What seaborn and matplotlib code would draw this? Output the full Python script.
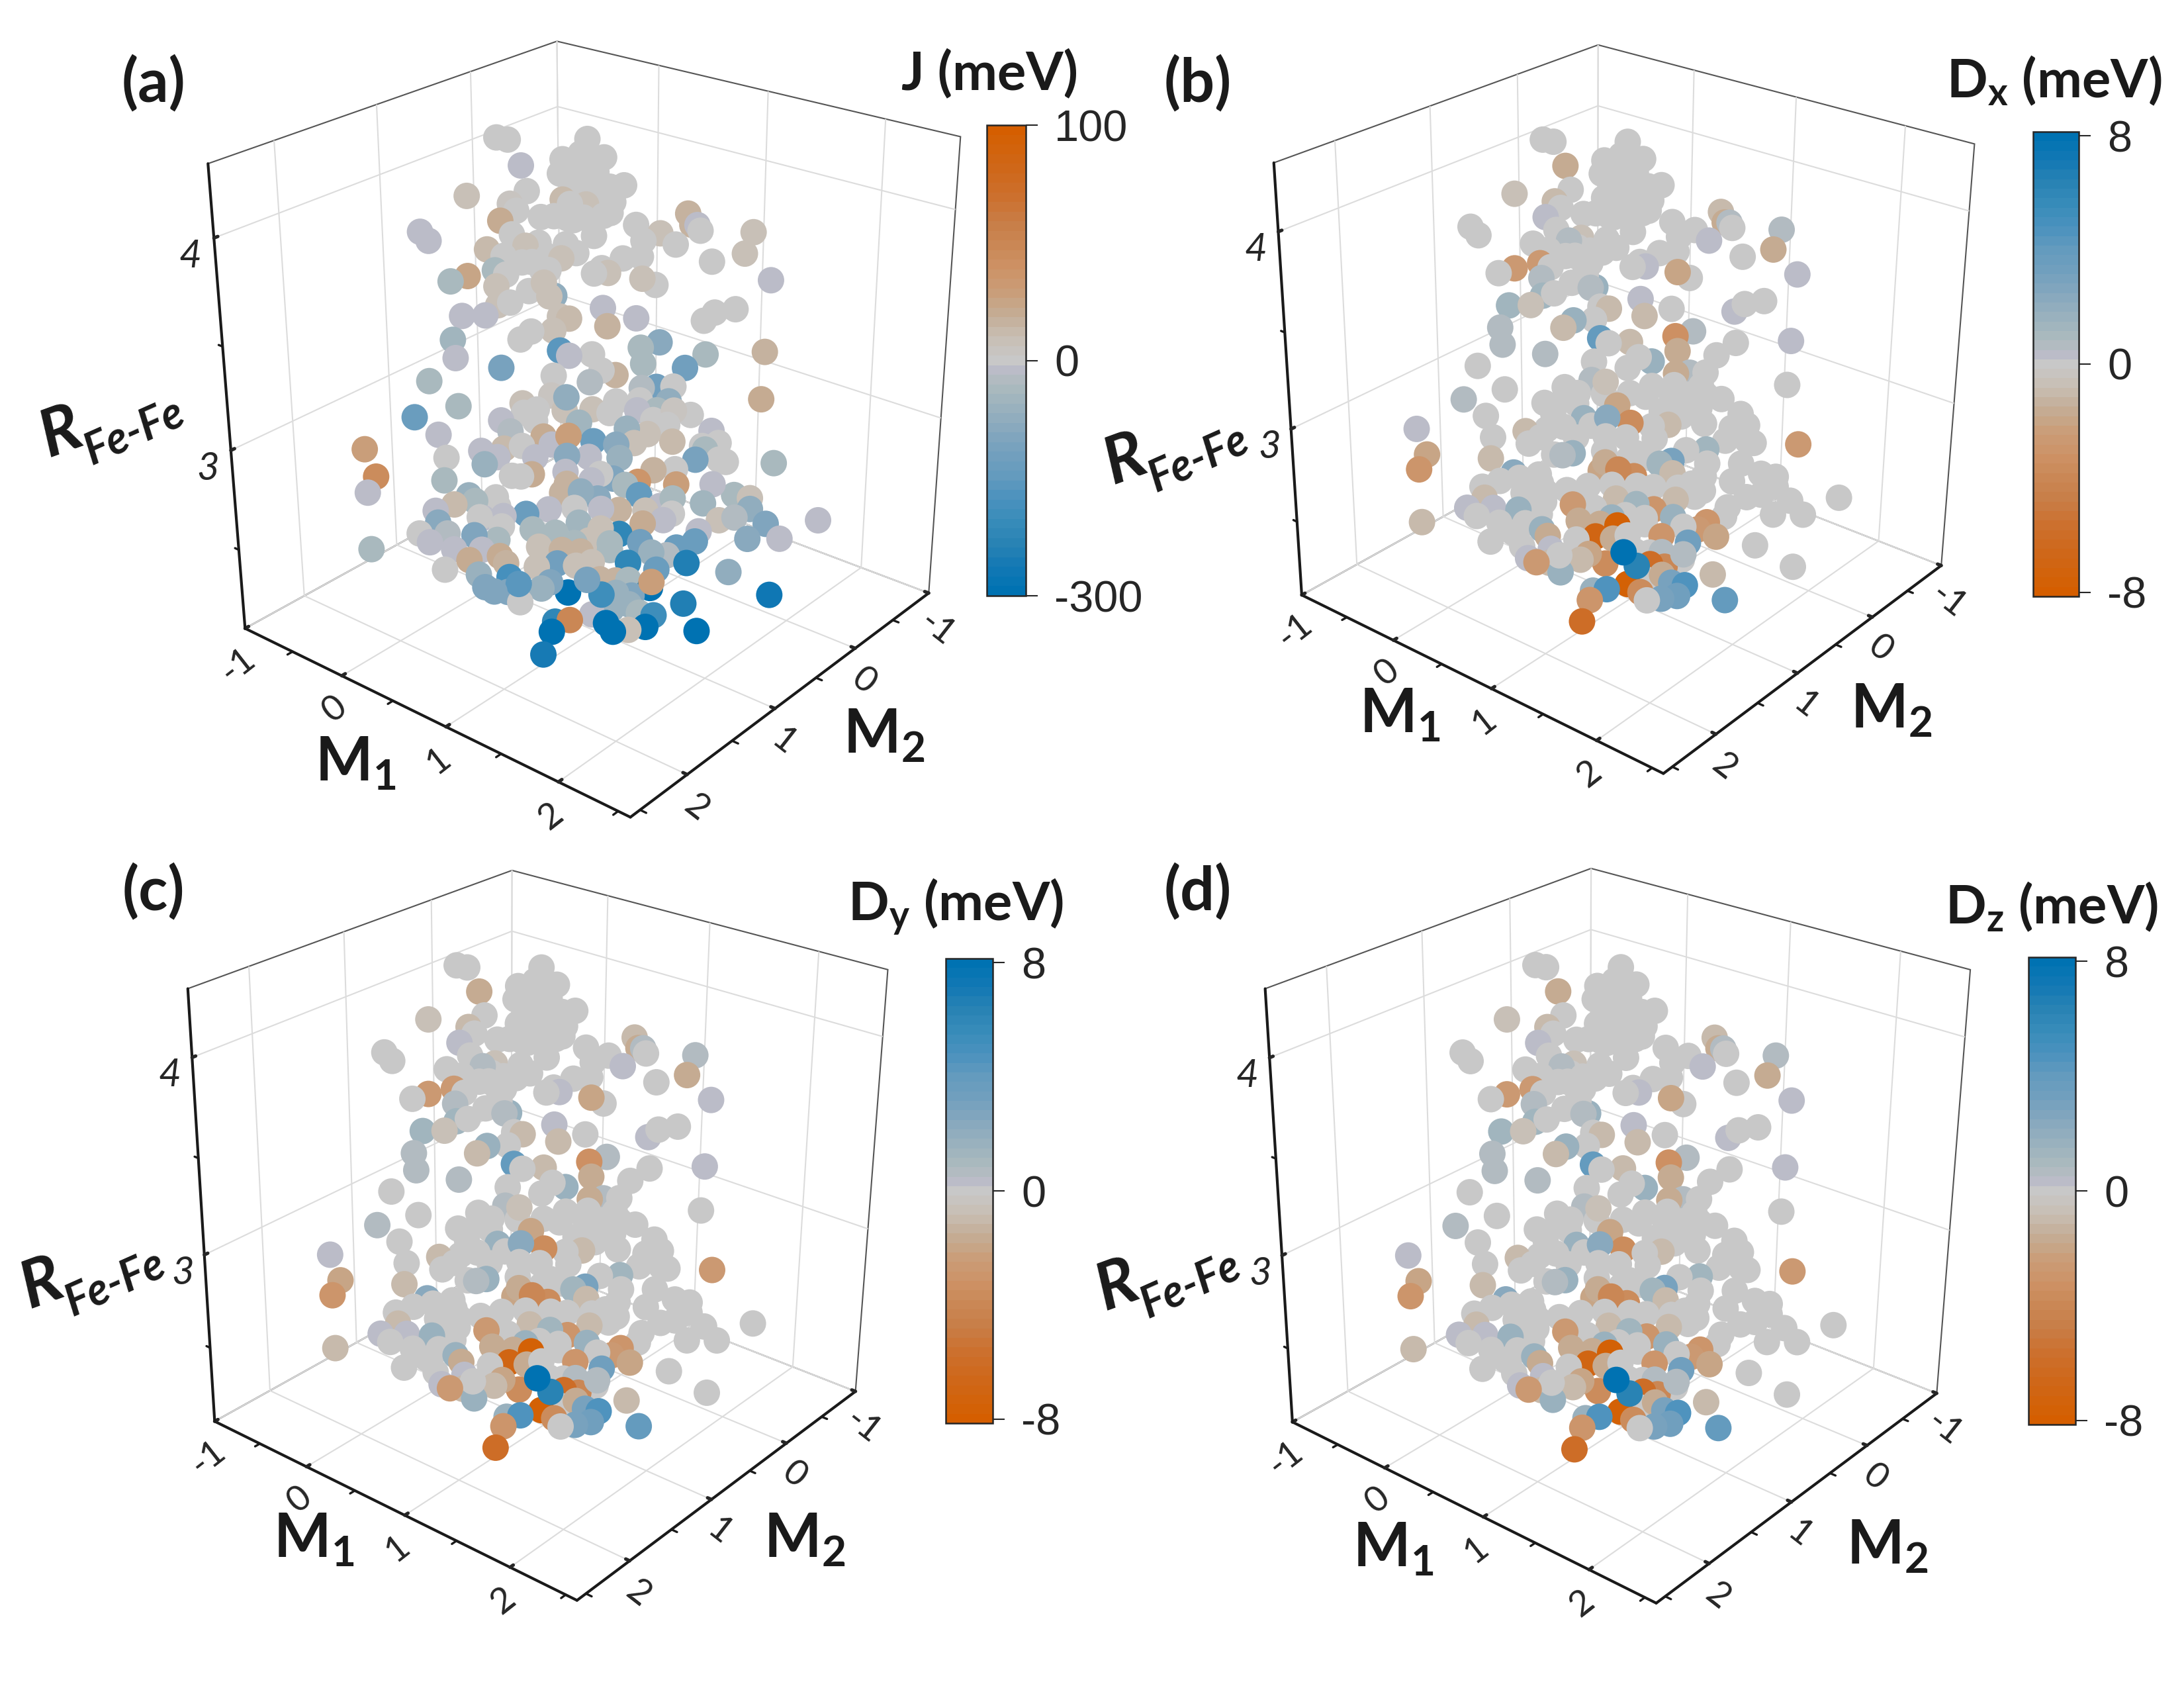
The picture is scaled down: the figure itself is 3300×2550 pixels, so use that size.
"""Four 3D scatter panels: exchange J and DMI components over (M1, M2, R)."""
import matplotlib
matplotlib.use("Agg")
import matplotlib.pyplot as plt
import numpy as np
import seaborn as sns
from matplotlib.cm import ScalarMappable
from matplotlib.colors import LinearSegmentedColormap, Normalize, TwoSlopeNorm

FIG_W, FIG_H = 3300, 2550

M1_LIM = (-1.0, 2.6)
M2_LIM = (-1.0, 2.6)
R_LIM = (2.09, 4.33)

m1 = [
    .08, .14, .23, .53, .43, .51, .63, .43, .53, .63,
    .76, .28, -.01, .21, .25, .47, .59, .38, .72, .51,
    .59, .18, -.21, -.16, .25, .54, .66, .86, 1.11, 1.14,
    1.17, 1.19, .99, .91, 1.08, 1.46, .39, .33, .14, .23,
    .53, .59, .52, .38, .44, 1.44, .92, .83, 1.28, .07,
    -.01, .20, .26, .22, .73, .70, .77, .95, 1.02, 1.60,
    .39, .46, .52, .50, .31, .25, .08, .20, .78, .62,
    .57, .96, 1.45, 1.35, 1.30, .82, .44, .40, .55, .06,
    1.10, 1.01, .61, .66, .77, .09, .33, 1.04, 1.35, 1.65,
    1.26, -.02, .60, .91, .84, .79, .15, -.06, 1.13, 1.06,
    1.22, .69, .47, .61, 1.21, 1.06, 1.34, 1.25, 1.68, .08,
    .38, .78, .44, .55, .92, 1.03, .61, .74, .87, .99,
    1.15, 1.46, 1.27, -.28, .14, .31, .40, .34, .59, .75,
    -.20, 1.02, .86, -.22, .15, .59, .54, .76, 1.41, 1.32,
    1.57, 1.45, 1.82, 1.21, 1.01, 1.14, .29, .86, .76, 1.34,
    1.16, 1.53, 1.08, .95, .45, .23, .14, .33, .60, .71,
    1.65, 1.74, 1.50, 1.34, .16, 1.07, 1.21, 1.75, .38, .08,
    .22, .88, .65, .77, .36, .49, 1.00, 2.12, -.15, .14,
    1.10, 1.85, 1.60, 1.68, .48, .88, 1.22, 1.51, 1.50, .70,
    .36, .51, 1.77, 1.94, .24, .81, .92, 1.07, 1.18, 1.41,
    1.37, 1.48, .71, .99, .42, .58, .64, .47, .52, 1.33,
    .80, 1.71, .66, .90, 1.21, 1.21, 1.15, 1.05, 1.13, 1.41,
    1.32, 1.23, 1.51, 1.95, 1.37, 1.29, 1.14, 1.05, .94, .86,
    .87, 1.13, 1.21, 1.35, 1.28, 1.67, 1.02,
    .50, .56, .61, .51, .59, .69, .51, .64, .72, .56,
    .44, .69, .38, .45, .33, .47, .49, .55, .69, .83,
    .94, 1.06, 1.16, .51, .66, 1.08, 1.14, 1.23, 1.43, 1.51,
    1.53, .49, .42, .94, .90, .78, .43, .37, .49, .84,
    .98, 1.28, 1.35, 1.21, 1.31, .95, 1.06, .55, .41, .27,
    1.29, .91, .82, 1.20, .76, .59, 1.23,
]
m2 = [
    .93, .88, .85, .49, .64, .54, .43, .67, .56, .49,
    .37, .85, 1.15, .95, .93, .69, .58, .82, .47, .69,
    .61, 1.02, 1.42, 1.39, .98, .66, .58, .36, .09, .08,
    .06, .05, .25, .34, .19, -.21, .86, .93, 1.12, 1.05,
    .73, .69, .77, .92, .88, -.14, .38, .47, .03, 1.25,
    1.34, 1.11, 1.06, 1.12, .58, .63, .56, .40, .34, -.24,
    .97, .89, .85, .88, 1.08, 1.14, 1.33, 1.22, .63, .81,
    .85, .48, -.03, .08, .14, .63, 1.01, 1.08, .90, 1.41,
    .39, .49, .90, .86, .74, 1.42, 1.21, .50, .18, -.12,
    .30, 1.58, .96, .65, .72, .79, 1.47, 1.70, .46, .54,
    .38, .93, 1.15, 1.00, .42, .59, .33, .41, -.05, 1.61,
    1.28, .90, 1.25, 1.11, .73, .67, 1.09, .97, .85, .74,
    .52, .24, .45, 1.99, 1.60, 1.42, 1.35, 1.42, 1.16, 1.00,
    1.97, .74, .89, 2.04, 1.64, 1.20, 1.26, 1.03, .36, .48,
    .21, .30, -.03, .59, .80, .68, 1.54, .98, 1.07, .49,
    .69, .31, .75, .90, 1.41, 1.63, 1.73, 1.52, 1.28, 1.16,
    .21, .14, .38, .53, 1.73, .81, .68, .15, 1.50, 1.84,
    1.70, 1.03, 1.27, 1.16, 1.57, 1.42, .93, -.18, 2.10, 1.80,
    .84, .09, .32, .24, 1.46, 1.08, .75, .44, .47, 1.26,
    1.63, 1.47, .20, .04, 1.76, 1.19, 1.06, .91, .84, .57,
    .63, .54, 1.30, 1.02, 1.60, 1.45, 1.42, 1.59, 1.55, .70,
    1.26, .34, 1.43, 1.18, 1.34, 1.18, .94, 1.00, .92, .86,
    .76, .86, .61, .16, .78, .85, .98, 1.09, 1.21, 1.28,
    1.33, 1.03, 1.05, .85, .96, .66, 1.60,
    .58, .51, .49, .62, .54, .44, .66, .52, .44, .61,
    .75, .51, .89, .83, .97, .85, 1.16, 1.09, .95, .81,
    .68, .56, .49, 1.21, 1.06, .65, .57, .46, .31, .22,
    .24, 1.30, 1.30, .86, .91, 1.04, 1.41, 1.52, 1.40, 1.03,
    .90, .60, .55, .71, .60, 1.00, .90, 1.45, 1.55, 1.69,
    .71, 1.10, 1.15, .86, 1.31, 1.48, .89,
]
r_fe_fe = [
    4.31, 4.30, 4.19, 4.29, 4.21, 4.23, 4.21, 4.15, 4.15, 4.11,
    4.09, 4.08, 4.07, 4.03, 4.00, 4.04, 4.015, 3.97, 3.975, 3.96,
    3.96, 3.96, 3.925, 3.885, 3.90, 3.95, 3.88, 3.92, 3.96, 3.91,
    3.91, 3.885, 3.88, 3.85, 3.83, 3.87, 3.86, 3.85, 3.84, 3.81,
    3.85, 3.81, 3.79, 3.78, 3.74, 3.78, 3.785, 3.78, 3.75, 3.73,
    3.71, 3.75, 3.73, 3.68, 3.74, 3.72, 3.72, 3.69, 3.66, 3.66,
    3.655, 3.69, 3.63, 3.63, 3.61, 3.60, 3.56, 3.56, 3.57, 3.53,
    3.54, 3.52, 3.54, 3.53, 3.495, 3.49, 3.48, 3.45, 3.48, 3.46,
    3.41, 3.39, 3.395, 3.37, 3.37, 3.38, 3.33, 3.32, 3.35, 3.35,
    3.295, 3.285, 3.285, 3.275, 3.30, 3.25, 3.17, 3.13, 3.215, 3.215,
    3.215, 3.19, 3.17, 3.20, 3.15, 3.117, 3.087, 3.11, 3.14, 3.05,
    3.10, 3.076, 3.05, 3.09, 3.11, 3.04, 3.02, 3.02, 2.99, 2.97,
    3.07, 3.01, 2.97, 3.00, 2.946, 2.97, 2.94, 2.91, 2.93, 2.93,
    2.876, 2.91, 2.92, 2.81, 2.846, 2.856, 2.85, 2.86, 2.886, 2.85,
    2.87, 2.93, 2.855, 2.85, 2.82, 2.80, 2.775, 2.77, 2.765, 2.78,
    2.74, 2.775, 2.79, 2.733, 2.72, 2.74, 2.715, 2.75, 2.68, 2.695,
    2.72, 2.705, 2.69, 2.72, 2.66, 2.677, 2.67, 2.655, 2.67, 2.617,
    2.61, 2.63, 2.61, 2.59, 2.597, 2.63, 2.60, 2.59, 2.557, 2.575,
    2.57, 2.585, 2.61, 2.62, 2.57, 2.54, 2.53, 2.566, 2.52, 2.53,
    2.487, 2.497, 2.52, 2.515, 2.447, 2.45, 2.50, 2.50, 2.44, 2.496,
    2.464, 2.424, 2.44, 2.45, 2.418, 2.40, 2.37, 2.362, 2.34, 2.40,
    2.37, 2.374, 2.283, 2.318, 2.50, 2.38, 2.306, 2.37, 2.36, 2.40,
    2.32, 2.288, 2.24, 2.26, 2.195, 2.21, 2.23, 2.214, 2.193, 2.186,
    2.15, 2.17, 2.15, 2.15, 2.15, 2.15, 2.15,
    4.18, 4.21, 4.15, 4.095, 4.086, 4.086, 4.02, 4.03, 4.02, 4.00,
    3.97, 3.965, 3.817, 3.80, 3.78, 3.743, 3.13, 3.141, 3.13, 3.13,
    3.159, 3.159, 3.113, 2.983, 2.983, 2.974, 3.011, 3.048, 2.946, 2.955,
    2.881, 2.853, 2.974, 2.844, 2.816, 2.807, 2.761, 2.677, 2.677, 2.696,
    2.687, 2.687, 2.65, 2.612, 2.622, 2.547, 2.529, 2.464, 2.529, 2.538,
    2.482, 2.436, 2.51, 2.362, 2.343, 2.334, 2.251,
]
j_mev = [
    0, 0, -15, 0, 0, 0, 0, 0, 0, 0,
    0, 0, 10, 3, 0, 12, 10, 0, 0, 0,
    0, 22, -15, -15, 0, 0, 0, 0, 15, 15,
    -15, 0, 10, 0, 0, 10, 0, 10, 12, 0,
    0, 0, 10, 0, 0, 10, 0, 0, 0, 25,
    -40, -40, 0, 8, 0, 0, 10, 10, 2, -15,
    2, 10, -70, 10, 0, 10, -15, -15, -15, 12,
    10, -15, 2, 0, 0, 18, 2, 2, 10, -55,
    -85, -40, -165, -15, 0, -15, -110, -40, -40, 18,
    -120, -35, 0, 15, 0, -30, -35, -140, -120, -20,
    0, -70, 8, 5, -70, -15, 0, 5, 20, -15,
    -15, -50, -30, 0, 0, -60, 20, 28, -140, -85,
    0, -15, 12, 30, 0, -15, -15, -60, -15, -85,
    45, -60, -15, -15, -35, 20, 0, -15, -110, 0,
    2, -35, -35, 15, -100, 35, -60, -70, 15, 28,
    -150, -15, -35, -85, 0, 12, -15, -35, -130, -15,
    -40, 10, -50, -40, -85, 18, 10, -70, -15, 0,
    -30, -50, -40, -40, -100, 0, 8, -15, -35, -15,
    -225, -100, 8, -20, -35, -35, -120, -15, -140, 8,
    22, 20, -85, -15, 0, -120, 18, -40, -225, -140,
    -30, -240, 8, 8, -60, -180, -165, -100, -100, -140,
    -100, -70, 0, -300, -110, -200, -60, 18, 15, 30,
    -300, -100, -240, -270, -200, -40, -60, -15, 50, -225,
    -300, -300, -300, -300, 8, -290, -260,
    0, 0, 0, 0, 0, 0, 0, 0, 0, 0,
    0, 0, 0, 0, 0, 0, 0, 0, 8, 8,
    0, 0, -35, 0, -15, 8, 10, 0, 0, 0,
    0, 0, 12, 0, -15, 15, 0, 0, -15, 0,
    -15, -15, 0, 20, -15, 8, -40, 18, -15, -15,
    -60, 8, 15, -40, -60, -100, -60,
]
dx_mev = [
    0, 0, -1.5, 0, 0, 0, 0, 0, 0, 0,
    0, 0, -.5, -1, 0, 0, 0, 0, 0, 0,
    0, .3, 0, 0, 0, 0, 0, 0, -1, -1.5,
    .8, 0, 0, 0, .3, .8, -.5, .8, 0, 0,
    0, 0, 0, 0, 0, -1.5, 0, 0, 0, -2.5,
    0, -2.5, 0, .8, 0, 0, .3, -2, 0, .3,
    0, 0, 1.6, .6, 0, 1.2, 1.2, -.5, .3, -1,
    0, 0, 0, 0, .3, -1, 1.6, -1, 0, .8,
    .8, -3.2, 4, 0, -1, .8, .8, -1.5, 0, .3,
    0, 0, 0, 1.6, 0, 0, 0, .8, .8, -1.5,
    0, -.5, 0, .5, 0, 0, 0, 0, 0, 0,
    0, -2, 0, 0, 0, 0, 1.6, 2.2, -3.5, 0,
    0, 0, 0, .3, 0, -1, 0, 0, 0, 0,
    -2, 0, 0, -3, -1, 1.6, .6, 0, 0, 1.2,
    0, 0, -2.5, 0, 0, 2.9, 2.2, -4, -2, 0,
    -1, 0, 1.2, -3.5, 0, 0, 0, 0, 0, 0,
    0, 0, 0, 0, -1, 0, 0, 0, 0, .3,
    .3, -1, -2.5, 0, 1.6, 0, 1.2, 0, -1, 0,
    -3, 0, 0, 0, 0, 1.6, 1.6, 0, 0, -1.5,
    0, 1.6, 0, 0, 0, -7, -7.5, 0, -3, -3,
    -2.5, -2, 0, 0, 0, .3, 0, .3, -2.5, 3.4,
    -2, 0, 1.6, -3.5, 8, 6.2, -6, 0, 0, .8,
    0, -4, -1, 0, 4.8, 2.9, 0, -7.5, 4.8, 1.6,
    -3, -3.5, 0, 3.4, 2.9, 4, -6,
    0, 0, 0, 0, 0, 0, 0, 0, 0, 0,
    0, 0, 0, 0, 0, 0, 0, 0, 0, 0,
    0, 0, 0, 0, 0, -1, 0, 0, 0, 0,
    0, 0, 0, 0, 0, -1.5, 0, 0, 0, 0,
    0, 0, 0, -1, 0, 0, 0, -1.5, 0, 0,
    0, -1.5, -1.5, .8, -1, -1, -1.5,
]
# panels (c) and (d) read the same as (b) point for point
dy_mev = dx_mev
dz_mev = dx_mev

M_TICKS = [-1, 0, 1, 2]
M_MINOR = [-.5, .5, 1.5, 2.5]
R_TICKS = [3, 4]
R_MINOR = [2.5, 3.5]
D_TICKS = [8, 0, -8]
J_TICKS = [100, 0, -300]

# colour bar read from bottom (blue) to top (orange)
CMAP_STOPS = [
    (0.00, "#0072B2"), (0.05, "#1278B4"), (0.10, "#2882B4"), (0.15, "#378CB9"),
    (0.20, "#4B91BE"), (0.25, "#649BBE"), (0.30, "#73A0BE"), (0.35, "#87A8BE"),
    (0.40, "#9BB2BE"), (0.45, "#AEBBBE"), (0.48, "#BBBCC8"), (0.50, "#C8C8C8"),
    (0.55, "#C8BEB4"), (0.60, "#C4AC94"), (0.65, "#CA9D78"), (0.70, "#CD9266"),
    (0.75, "#CA8755"), (0.80, "#C87D46"), (0.85, "#CC7130"), (0.90, "#CE691E"),
    (0.95, "#D1640F"), (1.00, "#D55E00"),
]

# cube corners in image pixels: left, back, right, front (floor), left, back, right (top)
PANELS = {
    "a": dict(corners=[(371, 949), (847, 687), (1404, 895), (952, 1235), (314, 247), (842, 62), (1451, 207)],
              tag_xy=(232, 126), title="J (meV)", title_xy=(1496, 112),
              m1_xy=(537, 1153), m2_xy=(1336, 1111), r_xy=(92, 654),
              cbar=(1491, 189, 1550, 900)),
    "b": dict(corners=[(1967, 901), (2414, 649), (2933, 856), (2513, 1167), (1925, 245), (2414, 69), (2984, 217)],
              tag_xy=(1810, 126), title=r"$\mathbf{D_x}$ (meV)", title_xy=(3104, 122),
              m1_xy=(2115, 1080), m2_xy=(2858, 1073), r_xy=(1700, 695),
              cbar=(3072, 199, 3141, 901)),
    "c": dict(corners=[(324, 2149), (773, 1896), (1292, 2104), (872, 2416), (284, 1493), (773, 1316), (1342, 1464)],
              tag_xy=(232, 1347), title=r"$\mathbf{D_y}$ (meV)", title_xy=(1444, 1370),
              m1_xy=(474, 2326), m2_xy=(1216, 2326), r_xy=(63, 1940),
              cbar=(1429, 1448, 1500, 2150)),
    "d": dict(corners=[(1953, 2152), (2403, 1894), (2926, 2108), (2502, 2419), (1912, 1492), (2403, 1314), (2978, 1464)],
              tag_xy=(1810, 1347), title=r"$\mathbf{D_z}$ (meV)", title_xy=(3100, 1370),
              m1_xy=(2105, 2340), m2_xy=(2852, 2336), r_xy=(1688, 1943),
              cbar=(3065, 1446, 3136, 2152)),
}


def fit_camera(corners):
    """Projective camera from the drawn cube corners (M2 is x, M1 is y, R is z)."""
    x0, x1 = M2_LIM
    y0, y1 = M1_LIM
    z0, z1 = R_LIM
    box = [(x1, y0, z0), (x0, y0, z0), (x0, y1, z0), (x1, y1, z0),
           (x1, y0, z1), (x0, y0, z1), (x0, y1, z1)]
    rows = []
    for (x, y, z), (u, v) in zip(box, corners):
        v = FIG_H - v
        rows.append([x, y, z, 1, 0, 0, 0, 0, -u * x, -u * y, -u * z, -u])
        rows.append([0, 0, 0, 0, x, y, z, 1, -v * x, -v * y, -v * z, -v])
    cam = np.linalg.svd(np.array(rows, dtype=float))[2][-1].reshape(3, 4)
    centre = np.array([(x0 + x1) / 2, (y0 + y1) / 2, (z0 + z1) / 2, 1.0])
    return cam / (cam[2] @ centre)


def use_camera(ax, cam):
    """Make the 3D axes project through cam; larger third row means farther away."""
    x0, x1 = M2_LIM
    y0, y1 = M1_LIM
    z0, z1 = R_LIM
    depth = np.array([-1 / (x1 - x0), -1 / (y1 - y0), -0.15 / (z1 - z0),
                      x0 / (x1 - x0) + y0 / (y1 - y0) + 0.15 * z0 / (z1 - z0)])

    def get_proj():
        to_axes = ax.transData.inverted().get_matrix()
        xy = to_axes[:2] @ cam
        return np.vstack([xy, depth, cam[2]])

    ax.get_proj = get_proj


def px_text(fig, xy, s, **kw):
    fig.text(xy[0] / FIG_W, 1 - xy[1] / FIG_H, s, ha="center", va="center", **kw)


def draw_panel(fig, key, values, norm, cmap, ticks):
    spec = PANELS[key]
    corners = spec["corners"]
    xs = [c[0] for c in corners]
    ys = [c[1] for c in corners]
    side = 1280
    left = (min(xs) + max(xs)) / 2 - side / 2
    top = (min(ys) + max(ys)) / 2 - side / 2
    ax = fig.add_axes([left / FIG_W, 1 - (top + side) / FIG_H, side / FIG_W, side / FIG_H],
                      projection="3d")
    ax.patch.set_visible(False)
    ax.view_init(elev=35, azim=45)
    ax.set_proj_type("ortho")
    use_camera(ax, fit_camera(corners))

    ax.scatter(m2, m1, r_fe_fe, c=values, cmap=cmap, norm=norm, s=92,
               linewidths=0, depthshade=False, alpha=1)

    # short unlabelled ticks between the labelled ones
    for v in M_MINOR:
        ax.plot([v, v], [M1_LIM[1], M1_LIM[1] + .05], [R_LIM[0], R_LIM[0]], color="k", lw=.8)
        ax.plot([M2_LIM[1], M2_LIM[1] + .05], [v, v], [R_LIM[0], R_LIM[0]], color="k", lw=.8)
    for v in R_MINOR:
        ax.plot([M2_LIM[1], M2_LIM[1]], [M1_LIM[0], M1_LIM[0] - .04], [v, v], color="k", lw=.8)

    ax.set_xlim(*M2_LIM)
    ax.set_ylim(*M1_LIM)
    ax.set_zlim(*R_LIM)
    ax.set_xticks(M_TICKS)
    ax.set_yticks(M_TICKS)
    ax.set_zticks(R_TICKS)
    ax.tick_params(axis="x", labelrotation=-38, labelsize=13, pad=-4.5)
    ax.tick_params(axis="y", labelrotation=38, labelsize=13, pad=-4.5)
    ax.tick_params(axis="z", labelsize=14, pad=-3)
    for lab in ax.zaxis.get_ticklabels():
        lab.set_style("italic")
    for axis in (ax.xaxis, ax.yaxis, ax.zaxis):
        axis.pane.fill = False
        axis.pane.set_alpha(1)
        axis.pane.set_edgecolor("#555555")
        axis.pane.set_linewidth(.5)
        axis.line.set_color("k")
        axis.line.set_linewidth(1.0)
        axis._axinfo["grid"].update(color="#dcdcdc", linewidth=.5)
        axis._axinfo["tick"].update(inward_factor=0, outward_factor=.12)

    bold = dict(fontweight="bold", color="k")
    px_text(fig, spec["tag_xy"], f"({key})", fontsize=22, **bold)
    px_text(fig, spec["title_xy"], spec["title"], fontsize=19.5, **bold)
    px_text(fig, spec["m1_xy"], r"$\mathbf{M_1}$", fontsize=22, **bold)
    px_text(fig, spec["m2_xy"], r"$\mathbf{M_2}$", fontsize=22, **bold)
    rx, ry = spec["r_xy"]
    px_text(fig, (rx, ry), "R", fontsize=24, rotation=20, style="italic", **bold)
    px_text(fig, (rx + 111, ry - 2), "Fe-Fe", fontsize=16, rotation=24, style="italic", **bold)

    x0, y0, x1, y1 = spec["cbar"]
    cax = fig.add_axes([x0 / FIG_W, 1 - y1 / FIG_H, (x1 - x0) / FIG_W, (y1 - y0) / FIG_H])
    cb = fig.colorbar(ScalarMappable(norm=norm, cmap=cmap), cax=cax, ticks=ticks)
    cb.ax.minorticks_off()
    cb.outline.set_linewidth(.6)
    cb.ax.tick_params(length=4.3, width=.5, pad=6, labelsize=16)
    cb.ax.set_yticklabels([str(t) for t in ticks], fontfamily="Liberation Sans")


def main():
    sns.set_theme(style="ticks")
    plt.rcParams["font.family"] = ["Lato", "DejaVu Sans"]
    plt.rcParams["axes.unicode_minus"] = False
    plt.rcParams["mathtext.fontset"] = "custom"
    plt.rcParams["mathtext.bf"] = "Lato:bold"
    plt.rcParams["mathtext.rm"] = "Lato:bold"
    plt.rcParams["axes3d.grid"] = True

    # odd N so that a value of 0 lands on the neutral grey band
    cmap_j = LinearSegmentedColormap.from_list("j_bar", CMAP_STOPS, N=49)
    cmap_d = cmap_j.reversed()
    norm_j = TwoSlopeNorm(vcenter=0, vmin=-300, vmax=100)
    norm_d = Normalize(vmin=-8.15, vmax=8.15)

    fig = plt.figure(figsize=(FIG_W / 300, FIG_H / 300), dpi=300, facecolor="white")
    draw_panel(fig, "a", j_mev, norm_j, cmap_j, J_TICKS)
    draw_panel(fig, "b", dx_mev, norm_d, cmap_d, D_TICKS)
    draw_panel(fig, "c", dy_mev, norm_d, cmap_d, D_TICKS)
    draw_panel(fig, "d", dz_mev, norm_d, cmap_d, D_TICKS)
    fig.savefig("out.png", dpi=300)
    plt.close(fig)


if __name__ == "__main__":
    main()
